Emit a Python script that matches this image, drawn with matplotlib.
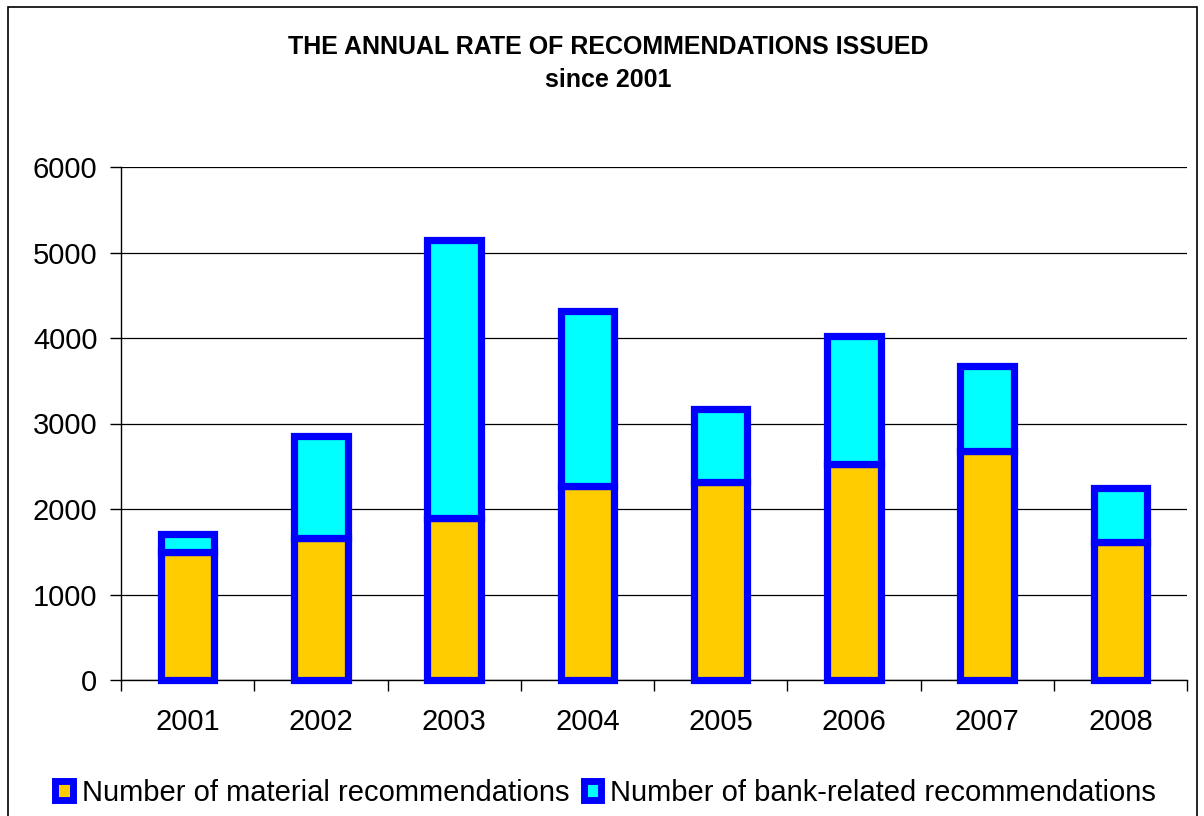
import matplotlib
matplotlib.use("Agg")
import matplotlib.pyplot as plt
from matplotlib.patches import Patch, Rectangle
import numpy as np

plt.rcParams["font.family"] = ["Liberation Sans", "DejaVu Sans"]

years = ["2001", "2002", "2003", "2004", "2005", "2006", "2007", "2008"]
material = [1500, 1660, 1900, 2270, 2320, 2530, 2680, 1610]
bank = [210, 1190, 3250, 2040, 850, 1490, 990, 630]
series_names = ["Number of material recommendations",
                "Number of bank-related recommendations"]

YELLOW = "#FFCC00"
CYAN = "#00FFFF"
BLUE = "#0000FF"

W, H = 1204, 816
fig = plt.figure(figsize=(W / 100, H / 100), dpi=100)

# outer chart frame
fig.patches.append(Rectangle((8 / W, -0.02), 1189 / W, 1 - 7 / H + 0.02,
                             transform=fig.transFigure, fill=False,
                             edgecolor="black", linewidth=1.2))

ax = fig.add_axes([121 / W, 1 - 680 / H, (1187 - 121) / W, (680 - 167) / H])

x = np.arange(len(years))
bw = 0.4
ax.bar(x, material, bw, color=YELLOW, edgecolor=BLUE, linewidth=5.2,
       zorder=3, clip_on=False)
ax.bar(x, bank, bw, bottom=material, color=CYAN, edgecolor=BLUE,
       linewidth=5.2, zorder=3, clip_on=False)

ax.set_xlim(-0.5, len(years) - 0.5)
ax.set_ylim(0, 6000)
ax.set_yticks(np.arange(0, 6001, 1000))
ax.yaxis.grid(True, color="black", linewidth=0.9)
ax.set_axisbelow(True)

# category labels centred, ticks between categories
ax.set_xticks(np.arange(len(years) + 1) - 0.5)
ax.set_xticklabels([])
ax.set_xticks(x, minor=True)
ax.set_xticklabels(years, minor=True)
ax.tick_params(axis="x", which="minor", length=0, pad=20, labelsize=21)
ax.tick_params(axis="x", which="major", length=8, width=1, direction="out")
ax.tick_params(axis="y", length=8, width=1, direction="out", pad=9,
               labelsize=21)

for side in ["top", "right"]:
    ax.spines[side].set_visible(False)
for side in ["left", "bottom"]:
    ax.spines[side].set_linewidth(1)

fig.text(0.505, 1 - 47 / H, "THE ANNUAL RATE OF RECOMMENDATIONS ISSUED",
         ha="center", va="center", fontsize=18, fontweight="bold")
fig.text(0.505, 1 - 80 / H, "since 2001",
         ha="center", va="center", fontsize=18, fontweight="bold")

handles = [Patch(facecolor=YELLOW, edgecolor=BLUE, linewidth=5),
           Patch(facecolor=CYAN, edgecolor=BLUE, linewidth=5)]
fig.legend(handles, series_names, loc="center", ncol=2,
           bbox_to_anchor=(0.503, 1 - 793 / H), frameon=False,
           fontsize=21, handlelength=0.6, handleheight=0.6,
           handletextpad=0.3, columnspacing=0.5, borderpad=0)

fig.savefig("out.png", dpi=100)
